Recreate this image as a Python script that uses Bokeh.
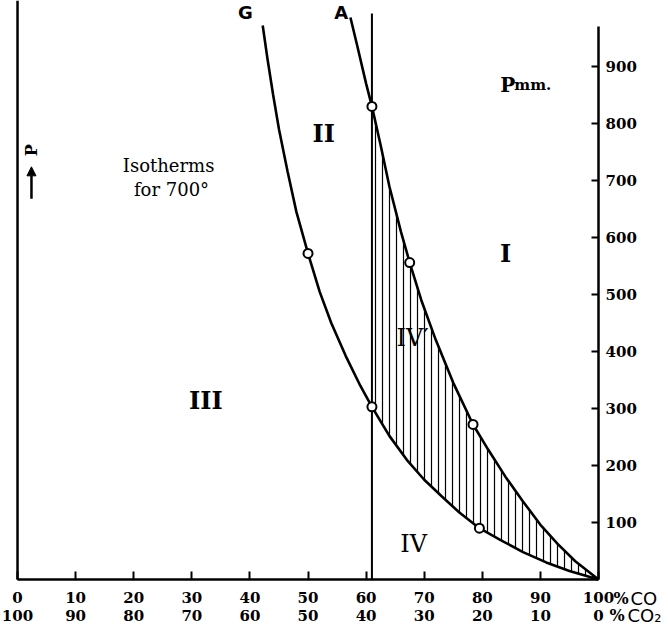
from bokeh.plotting import figure
from bokeh.models import LinearAxis, FixedTicker, Label, Arrow, NormalHead
from bokeh.embed import file_html
from bokeh.resources import INLINE

# ---- data ----
x_ticks = [0, 10, 20, 30, 40, 50, 60, 70, 80, 90, 100]
co2_labels = ["100", "90", "80", "70", "60", "50", "40", "30", "20", "10", "0"]
p_ticks = [100, 200, 300, 400, 500, 600, 700, 800, 900]

g_x = [42.2, 43.0, 44.0, 45.0, 46.5, 48.0, 50.0, 52.0, 54.0, 56.5, 59.0, 61.0, 64.0, 67.0,
       70.0, 73.0, 76.0, 79.5, 83.0, 87.0, 91.0, 95.0, 100.0]
g_p = [972, 915, 850, 790, 715, 645, 572, 505, 450, 392, 340, 303, 252, 210,
       175, 146, 118, 90, 70, 48, 30, 15, 0]

a_x = [57.3, 58.5, 60.0, 61.0, 62.5, 64.0, 66.0, 67.5, 69.5, 72.0, 75.0, 78.4, 81.0,
       84.0, 87.0, 90.0, 93.0, 96.0, 100.0]
a_p = [986, 935, 870, 830, 762, 690, 610, 556, 490, 420, 345, 272, 228,
       180, 137, 96, 62, 32, 0]

g_pts_x = [50, 61, 79.5]
g_pts_p = [572, 303, 90]
a_pts_x = [61, 67.5, 78.4]
a_pts_p = [830, 556, 272]

line_x = [0, 61]          # left border line and the vertical line at 61 % CO
line_top = [1016, 993]
p_axis_top = 970

SERIF = "DejaVu Serif"
SANS = "DejaVu Sans"

p = figure(width=666, height=627, x_range=(-2.93, 111.7), y_range=(-84.2, 1015.8),
           output_backend="svg", toolbar_location=None,
           x_axis_location=None, y_axis_location=None,
           min_border_left=0, min_border_right=0, min_border_top=0, min_border_bottom=0)
p.grid.visible = False
p.outline_line_color = None
p.background_fill_color = "white"
p.border_fill_color = "white"

# hatched region between A and G to the right of the vertical line
hx = [x for x in a_x if x >= line_x[1]] + [x for x in reversed(g_x) if x >= line_x[1]]
hy = [y for x, y in zip(a_x, a_p) if x >= line_x[1]] + \
     [y for x, y in zip(reversed(g_x), reversed(g_p)) if x >= line_x[1]]
p.patch(hx, hy, fill_color=None, line_color=None, hatch_pattern="|",
        hatch_color="black", hatch_weight=1.2, hatch_scale=7)

# vertical lines
p.segment(x0=line_x, y0=[0, 0], x1=line_x, y1=line_top, line_color="black",
          line_width=[2.5, 2])

# curves
p.line(g_x, g_p, line_color="black", line_width=2.6)
p.line(a_x, a_p, line_color="black", line_width=2.6)

p.scatter(g_pts_x + a_pts_x, g_pts_p + a_pts_p, size=9, fill_color="white",
          line_color="black", line_width=2)

# axes
lab_kw = dict(major_label_text_font=SERIF, major_label_text_font_style="bold",
              major_label_text_font_size="15px", major_label_text_color="black")
bx = LinearAxis(ticker=FixedTicker(ticks=x_ticks), bounds=(0, 100), fixed_location=0,
                major_tick_in=8, major_tick_out=0, minor_tick_line_color=None,
                axis_line_width=2.5, major_tick_line_width=2,
                major_label_standoff=12, **lab_kw)
p.add_layout(bx, "below")
bx2 = LinearAxis(ticker=FixedTicker(ticks=x_ticks), bounds=(0, 100), fixed_location=0,
                 axis_line_color=None, major_tick_line_color=None, minor_tick_line_color=None,
                 major_label_standoff=24,
                 major_label_overrides={t: s for t, s in zip(x_ticks, co2_labels)}, **lab_kw)
p.add_layout(bx2, "below")

ry = LinearAxis(ticker=FixedTicker(ticks=p_ticks), bounds=(0, p_axis_top), fixed_location=100,
                major_tick_in=7, major_tick_out=0, minor_tick_line_color=None,
                axis_line_width=2.5, major_tick_line_width=2,
                major_label_standoff=7, **lab_kw)
p.add_layout(ry, "right")

def lab(x, y, t, size, font=SERIF, style="bold", align="center", baseline="middle", angle=0, xo=0):
    p.add_layout(Label(x=x, y=y, text=t, text_font=font, text_font_style=style,
                       text_font_size=size, text_align=align, text_baseline=baseline,
                       angle=angle, x_offset=xo, text_color="black"))

# unit labels next to the 100 / 0 ticks
lab(100, -33.3, "%", "16px", align="left", xo=15)
lab(100, -33.3, "CO", "18px", font=SANS, style="normal", align="left", xo=32)
lab(100, -63.2, "%", "16px", align="left", xo=11)
lab(100, -63.2, "CO\u2082", "18px", font=SANS, style="normal", align="left", xo=29)

# region and curve labels
lab(39.2, 994, "G", "18px", font=SANS)
lab(55.7, 994, "A", "18px", font=SANS)
lab(83.1, 868, "P", "20px", align="left", baseline="alphabetic")
lab(85.5, 868, "mm.", "15px", align="left", baseline="alphabetic")
lab(52.7, 782, "II", "24px")
lab(26.0, 726, "Isotherms", "18px", style="normal")
lab(26.5, 684, "for 700°", "18px", style="normal")
lab(84.0, 572, "I", "24px")
lab(32.4, 314, "III", "24px")
lab(68.0, 423, "IV\u2032", "24px", style="normal")
lab(68.2, 63, "IV", "24px", style="normal")
lab(2.4, 753, "P", "16px", angle=1.5708)

p.add_layout(Arrow(x_start=2.4, y_start=668, x_end=2.4, y_end=724, line_width=2.5,
                   end=NormalHead(size=9, fill_color="black", line_color="black")))

open("out.html", "w").write(file_html(p, INLINE))
